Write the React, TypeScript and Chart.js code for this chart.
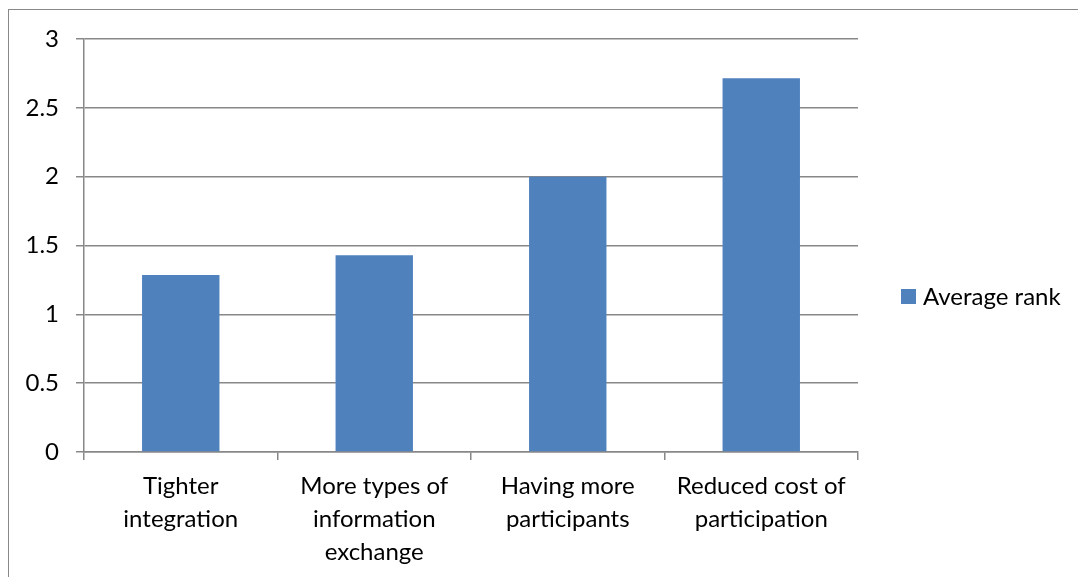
import React, { useEffect, useRef } from "react";
import { Chart, registerables } from "chart.js";

Chart.register(...registerables);

const categories: string[][] = [
  ["Tighter", "integration"],
  ["More types of", "information", "exchange"],
  ["Having more", "participants"],
  ["Reduced cost of", "participation"],
];
const seriesName = "Average rank";
const averageRank = [1.286, 1.429, 2.0, 2.714];
const yTicks = [0, 0.5, 1, 1.5, 2, 2.5, 3];

const FONT = "Lato";
const GRID = "#888888";
const BAR = "#4F81BD";

const legendPlugin = {
  id: "sideLegend",
  afterDraw(chart: any) {
    const ctx = chart.ctx;
    const ds = chart.data.datasets[0];
    ctx.save();
    ctx.fillStyle = ds.backgroundColor;
    ctx.fillRect(901, 289, 15, 15);
    ctx.fillStyle = "#000";
    ctx.font = `24px ${FONT}`;
    ctx.textBaseline = "middle";
    ctx.textAlign = "left";
    ctx.fillText(ds.label, 923, 297);
    ctx.restore();
  },
};

export default function App() {
  const ref = useRef<HTMLCanvasElement>(null);
  useEffect(() => {
    if (!ref.current) return;
    const chart = new Chart(ref.current, {
      type: "bar",
      data: {
        labels: categories,
        datasets: [
          {
            label: seriesName,
            data: averageRank,
            backgroundColor: BAR,
            borderWidth: 0,
            barPercentage: 1,
            categoryPercentage: 0.4,
          },
        ],
      },
      options: {
        animation: false,
        responsive: false,
        layout: { padding: { left: 0, right: 220, top: 39, bottom: 0 } },
        plugins: { legend: { display: false }, tooltip: { enabled: false } },
        scales: {
          x: {
            offset: true,
            grid: {
              offset: true,
              drawOnChartArea: false,
              drawTicks: true,
              tickLength: 8,
              color: GRID,
              lineWidth: 1.5,
            },
            border: { display: true, color: GRID, width: 1.5 },
            ticks: {
              color: "#000",
              font: { family: FONT, size: 24, lineHeight: 1.375 },
              padding: 10,
              maxRotation: 0,
              autoSkip: false,
            },
            afterFit(scale: any) {
              scale.height = 577 - 452;
            },
          },
          y: {
            min: 0,
            max: 3,
            afterBuildTicks(scale: any) {
              scale.ticks = yTicks.map((v) => ({ value: v }));
            },
            grid: {
              color: GRID,
              lineWidth: 1.5,
              tickLength: 8,
            },
            border: { display: true, color: GRID, width: 1.5 },
            ticks: {
              color: "#000",
              font: { family: FONT, size: 24 },
              padding: 17,
              callback: (v: any) => String(v),
            },
            afterFit(scale: any) {
              scale.width = 84;
            },
          },
        },
      },
      plugins: [legendPlugin],
    });
    return () => chart.destroy();
  }, []);
  return (
    <div style={{ position: "absolute", left: 0, top: 0, width: 1078, height: 577, overflow: "hidden", background: "#fff" }}>
      <div
        style={{
          position: "absolute",
          left: 8,
          top: 9,
          width: 1100,
          height: 600,
          border: "1.5px solid #888",
          boxSizing: "border-box",
        }}
      />
      <canvas ref={ref} width={1078} height={577} style={{ position: "absolute", left: 0, top: 0 }} />
    </div>
  );
}
